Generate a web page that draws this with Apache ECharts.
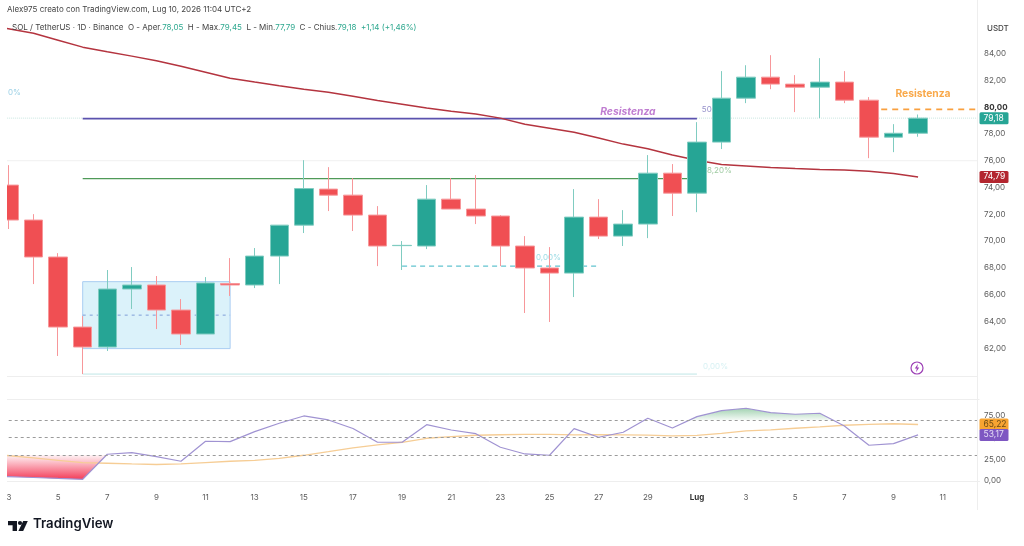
<!DOCTYPE html>
<html>
<head>
<meta charset="utf-8">
<style>html,body{margin:0;padding:0;background:#fff}#chart{width:1024px;height:546px}</style>
<script src="https://cdn.jsdelivr.net/npm/echarts@6/dist/echarts.min.js"></script>
</head>
<body>
<div id="chart"></div>
<script>
// SOL / USDT daily candles, June 3 to July 10, with EMA, Fibonacci levels and RSI pane.
const days = ['3','4','5','6','7','8','9','10','11','12','13','14','15','16','17','18','19','20','21','22','23','24','25','26','27','28','29','30',
  'Lug','2','3','4','5','6','7','8','9','10','11','12'];

// [open, close, low, high]
const candles = [
  [74.18,71.57,70.90,75.67],[71.57,68.81,66.79,72.01],[68.81,63.58,61.42,69.10],[63.58,62.09,60.07,64.40],
  [62.09,66.42,61.79,67.84],[66.42,66.72,64.93,68.06],[66.72,64.85,63.43,67.39],[64.85,63.06,62.24,65.67],
  [63.06,66.87,63.06,67.31],[66.83,66.72,65.90,68.73],[66.72,68.88,66.49,69.48],[68.88,71.19,66.79,71.19],
  [71.19,73.92,70.60,76.04],[73.88,73.43,72.24,75.52],[73.43,71.94,70.75,74.70],[71.94,69.63,68.13,72.61],
  [69.66,69.68,67.84,70.00],[69.63,73.13,69.40,74.18],[73.13,72.39,72.39,74.70],[72.39,71.87,71.27,74.93],
  [71.87,69.63,68.13,71.94],[69.63,67.99,64.63,70.37],[67.99,67.61,63.96,69.55],[67.61,71.79,65.82,73.88],
  [71.79,70.37,70.15,73.13],[70.37,71.27,69.63,72.31],[71.27,75.07,70.22,76.42],[75.07,73.58,71.87,75.75],
  [73.58,77.39,72.16,78.88],[77.39,80.67,76.87,82.69],[80.67,82.24,80.30,83.13],[82.24,81.72,81.34,83.88],
  [81.72,81.49,79.63,82.39],[81.49,81.87,79.18,83.66],[81.87,80.52,80.30,82.69],[80.52,77.76,76.19,80.75],
  [77.76,78.05,76.64,78.73],[78.05,79.18,77.79,79.45]
];
const ema = [85.82,85.52,85.00,84.48,84.14,83.81,83.47,83.06,82.61,82.16,81.87,81.60,81.34,81.12,80.82,80.49,80.22,79.93,79.70,79.48,
  79.18,78.73,78.43,78.13,77.69,77.24,76.90,76.42,76.04,75.71,75.60,75.49,75.41,75.34,75.30,75.22,75.04,74.79];
const rsi = [4.97,4.04,2.89,1.96,30.83,32.68,28.06,22.75,45.84,45.38,56.93,66.63,75.06,70.44,60.62,44.69,44.69,65.01,58.89,54.62,
  38.91,31.18,29.68,60.39,50.46,56.24,72.40,61.20,74.25,81.18,83.95,78.87,77.02,78.18,63.51,41.22,43.07,53.17];
const rsiMa = [29.21,26.56,23.90,21.13,20.44,19.63,19.05,19.63,21.13,22.75,23.90,26.21,29.68,33.83,38.11,41.57,44.69,49.31,51.15,52.77,
  53.35,53.70,53.70,53.12,53.35,53.12,52.89,51.96,52.54,54.85,57.74,58.89,60.85,62.36,64.32,65.24,66.05,65.22];
// Values where each study enters at the left edge of the pane, just before the first day
const edgeDay = -0.08, emaEdge = 85.88, rsiEdge = 5.05, rsiMaEdge = 29.4;
// Portions of the RSI beyond its bands, as [day position, value]
const oversold = [[edgeDay,rsiEdge],[0,4.97],[1,4.04],[2,2.89],[3,1.96],[3.97,30]];
const overbought = [[27.68,70],[28,74.25],[29,81.18],[30,83.95],[31,78.87],[32,77.02],[33,78.18],[33.56,70]];

const lastPrice = 79.18, lastEma = 74.79, lastRsi = 53.17, lastRsiMa = 65.22;
const fib50 = 79.14, fib382 = 74.66, fibBottom = 60.07, fibStart = 3, fibEnd = 28;
const pullback = 68.13, pullbackStart = 16, pullbackEnd = 24;
const box = {from:3, to:9, high:66.97, low:61.97, mid:64.47};
const resistance = {level:79.83, from:35.5, to:39.4};
const rsiBands = [70,50,30];
const priceTicksHidden = [60,86,88];

const GREEN = '#26a595', RED = '#f04f53';
const FONT = 'Inter, "Liberation Sans", sans-serif';
const SIZE = 8;
const comma = v => v.toFixed(2).replace('.', ',');
const withEdge = (edge, arr) => [[edgeDay, edge]].concat(arr.map((v,i)=>[i,v]));

// Text placed in data coordinates
const notes = [
  {value:[25.19,79.63], text:'Resistenza', color:'#b05cc6', size:10.3, weight:700, style:'italic', align:'center'},
  {value:[37.2,80.97], text:'Resistenza', color:'#f7941e', size:10.3, weight:700, style:'normal', align:'center'},
  {value:[28.2,79.78], text:'50', color:'#7b74bd', size:SIZE, weight:400, style:'normal', align:'left'},
  {value:[28.41,74.66+0.6], text:'8,20%', color:'#86bd8a', size:SIZE, weight:400, style:'normal', align:'left'},
  {value:[21.45,68.75], text:'0,00%', color:'#84d3df', size:SIZE, weight:400, style:'normal', align:'left'},
  {value:[28.25,60.65], text:'0,00%', color:'#cdeef0', size:SIZE, weight:400, style:'normal', align:'left'},
  {value:[-0.04,81.1], text:'0%', color:'#84c6e0', size:SIZE, weight:400, style:'normal', align:'left'}
];

const hLine = (name,from,to,v,color,width,type,z) => ({
  name, type:'line', xAxisIndex:2, yAxisIndex:0, data:[[from,v],[to,v]], symbol:'none', silent:true, z:z||2,
  lineStyle:{color,width,type:type||'solid'}
});
const tag = (v,bg,fg,yIdx,z) => ({
  type:'line', xAxisIndex:yIdx===0?2:3, yAxisIndex:yIdx, data:[], silent:true, z:z||10,
  markLine:{symbol:'none', silent:true, animation:false, lineStyle:{color:'transparent', width:0},
    label:{position:'end', distance:0, formatter:comma(v), color:fg, backgroundColor:bg, fontFamily:FONT, fontSize:SIZE+0.5,
      padding:[1.5,3,1.5,4], borderRadius:1.5, width:22, align:'left'},
    data:[{yAxis:v}]}
});

const option = {
  animation:false,
  backgroundColor:'#fff',
  grid:[
    {left:-3.3, width:982.8, top:0, height:375, outerBoundsMode:'none'},
    {left:-3.3, width:982.8, top:399.3, height:88, outerBoundsMode:'none'}
  ],
  xAxis:[
    {type:'category', gridIndex:0, data:days, axisLine:{show:false}, axisTick:{show:false}, axisLabel:{show:false}, splitLine:{show:false}},
    {type:'category', gridIndex:1, data:days, axisLine:{lineStyle:{color:'#eeeeee'}}, axisTick:{show:false},
      axisLabel:{interval:1, margin:6, color:'#5c5c5c', fontFamily:FONT, fontSize:SIZE,
        formatter:v => v==='Lug' ? '{b|Lug}' : v, rich:{b:{fontWeight:700, color:'#333', fontFamily:FONT, fontSize:SIZE}}}},
    {type:'value', gridIndex:0, min:-0.5, max:39.5, show:false},
    {type:'value', gridIndex:1, min:-0.5, max:39.5, show:false}
  ],
  yAxis:[
    {type:'value', gridIndex:0, position:'right', min:60, max:88, interval:2, axisLine:{show:false}, axisTick:{show:false}, splitLine:{show:false},
      axisLabel:{margin:4.5, color:'#5c5c5c', fontFamily:FONT, fontSize:SIZE,
        formatter:v => priceTicksHidden.includes(v) ? '' : (v===80 ? '{b|'+comma(v)+'}' : comma(v)),
        rich:{b:{fontWeight:700, color:'#333', fontFamily:FONT, fontSize:SIZE}}}},
    {type:'value', gridIndex:1, position:'right', min:-7.3, max:94.3, axisLine:{show:false}, axisTick:{show:false}, splitLine:{show:false},
      axisLabel:{margin:4.5, color:'#5c5c5c', fontFamily:FONT, fontSize:SIZE, customValues:[0,25,50,75], formatter:v => comma(v)}}
  ],
  series:[
    // Consolidation box with its midline
    {name:'box', type:'line', xAxisIndex:2, yAxisIndex:0, data:[], z:1, silent:true,
      markArea:{silent:true, itemStyle:{color:'rgba(190,232,246,0.55)', borderColor:'#a9cdf2', borderWidth:1},
        data:[[{coord:[box.from,box.high]},{coord:[box.to,box.low]}]]}},
    hLine('box mid',box.from,box.to,box.mid,'#7f9fd8',1,[3,4]),
    // Chart furniture
    hLine('grid 76',-0.4,39.4,76,'#f0f0f0',1),
    hLine('last price L',-0.4,fibStart,lastPrice,'#c9e6e0',1,'dotted'),
    hLine('last price R',fibEnd,39.4,lastPrice,'#c9e6e0',1,'dotted'),
    // Fibonacci levels
    hLine('fib 50',fibStart,fibEnd,fib50,'#5b52ae',1.6),
    hLine('fib 38.2',fibStart,fibEnd,fib382,'#4f9a58',1.3),
    hLine('fib 0',fibStart,fibEnd,fibBottom,'#bfe6e6',1),
    hLine('pullback',pullbackStart,pullbackEnd,pullback,'#62c3cf',1.2,[5,4]),
    hLine('resistance',resistance.from,resistance.to,resistance.level,'#f9a03f',1.6,[6,5]),
    {name:'notes', type:'scatter', xAxisIndex:2, yAxisIndex:0, symbolSize:0, z:3, silent:true,
      data:notes.map(n=>({value:n.value, label:{show:true, position:'inside', formatter:n.text, color:n.color, fontSize:n.size,
        fontWeight:n.weight, fontStyle:n.style, fontFamily:FONT, align:n.align, verticalAlign:'middle'}}))},
    {name:'EMA', type:'line', xAxisIndex:2, yAxisIndex:0, data:withEdge(emaEdge,ema), symbol:'none', z:4, silent:true,
      lineStyle:{color:'#b4343f', width:1.5}},
    {name:'SOL', type:'candlestick', xAxisIndex:0, yAxisIndex:0, data:candles, barWidth:19, z:5, silent:true,
      itemStyle:{color:GREEN, color0:RED, borderColor:'#80ccc1', borderColor0:'#f7979a', borderWidth:1}},
    tag(lastPrice,'#26a595','#ffffff',0),
    tag(lastEma,'#b3262f','#ffffff',0),

    // RSI pane
    {type:'line', xAxisIndex:3, yAxisIndex:1, data:[], silent:true, z:1,
      markLine:{symbol:'none', silent:true, animation:false, label:{show:false},
        data:rsiBands.map(v=>({yAxis:v, lineStyle:{color:'#9b9b9b', width:1, type:[3,3]}})).concat(
          [{yAxis:94.3, lineStyle:{color:'#eeeeee', width:1, type:'solid'}}])}},
    {name:'oversold', type:'line', xAxisIndex:3, yAxisIndex:1, data:oversold, symbol:'none', z:2, silent:true,
      lineStyle:{width:0}, areaStyle:{origin:30, opacity:1,
        color:{type:'linear', x:0, y:0, x2:0, y2:1, colorStops:[{offset:0,color:'rgba(245,60,90,0.06)'},{offset:1,color:'rgba(242,50,80,0.95)'}]}}},
    {name:'overbought', type:'line', xAxisIndex:3, yAxisIndex:1, data:overbought, symbol:'none', z:2, silent:true,
      lineStyle:{width:0}, areaStyle:{origin:70, opacity:1,
        color:{type:'linear', x:0, y:0, x2:0, y2:1, colorStops:[{offset:0,color:'rgba(70,165,100,0.5)'},{offset:1,color:'rgba(70,165,100,0.05)'}]}}},
    {name:'RSI MA', type:'line', xAxisIndex:3, yAxisIndex:1, data:withEdge(rsiMaEdge,rsiMa), symbol:'none', z:3, silent:true,
      lineStyle:{color:'#f6cd95', width:1.3}},
    {name:'RSI', type:'line', xAxisIndex:3, yAxisIndex:1, data:withEdge(rsiEdge,rsi), symbol:'none', z:4, silent:true,
      lineStyle:{color:'#a093d2', width:1.2}},
    tag(lastRsiMa,'#f7a432','#6b4a14',1,11),
    tag(lastRsi,'#7e57c2','#e5dcf5',1,12)
  ],
  graphic:[
    // Left margin mask and pane separators
    {type:'rect', z:50, shape:{x:0,y:0,width:7,height:546}, style:{fill:'#fff'}, silent:true},
    {type:'line', z:51, shape:{x1:7,y1:376.5,x2:977,y2:376.5}, style:{stroke:'#eeeeee',lineWidth:1}, silent:true},
    {type:'line', z:51, shape:{x1:977.5,y1:0,x2:977.5,y2:510}, style:{stroke:'#eeeeee',lineWidth:1}, silent:true},
    {type:'text', z:52, left:987, top:25, style:{text:'USDT', fill:'#444', font:'500 8px '+FONT}, silent:true},
    {type:'text', z:52, left:7, top:6, style:{text:'Alex975 creato con TradingView.com, Lug 10, 2026 11:04 UTC+2', fill:'#444', font:'8px '+FONT}, silent:true},
    {type:'text', z:52, left:12, top:24, silent:true, style:{
      text:'SOL / TetherUS · 1D · Binance  O - Aper.{g|78,05}  H - Max.{g|79,45}  L - Min.{g|77,79}  C - Chius.{g|79,18}  {g|+1,14 (+1,46%)}',
      fill:'#444', font:'8px '+FONT, rich:{g:{fill:'#2ea88f', font:'8px '+FONT}}}},
    // Lightning badge
    {type:'circle', z:52, shape:{cx:917,cy:368,r:6}, style:{fill:'#fff',stroke:'#9c3fb5',lineWidth:1.2}, silent:true},
    {type:'polygon', z:53, shape:{points:[[918,363.8],[914.8,368.6],[916.8,368.6],[916,372.2],[919.2,367.4],[917.2,367.4]]}, style:{fill:'#9c3fb5'}, silent:true},
    // Brand mark and wordmark
    {type:'polygon', z:52, shape:{points:[[8,521],[17,521],[17,531],[12.6,531],[12.6,525.2],[8,525.2]]}, style:{fill:'#131722'}, silent:true},
    {type:'circle', z:52, shape:{cx:20,cy:523,r:2.1}, style:{fill:'#131722'}, silent:true},
    {type:'polygon', z:52, shape:{points:[[23.2,521],[27.8,521],[23.2,531],[18.4,531]]}, style:{fill:'#131722'}, silent:true},
    {type:'text', z:52, left:33, top:518, style:{text:'TradingView', fill:'#131722', font:'600 13.2px '+FONT}, silent:true}
  ]
};
const chart = echarts.init(document.getElementById('chart'), null, {renderer:'canvas'});
chart.setOption(option);
</script>
</body>
</html>
